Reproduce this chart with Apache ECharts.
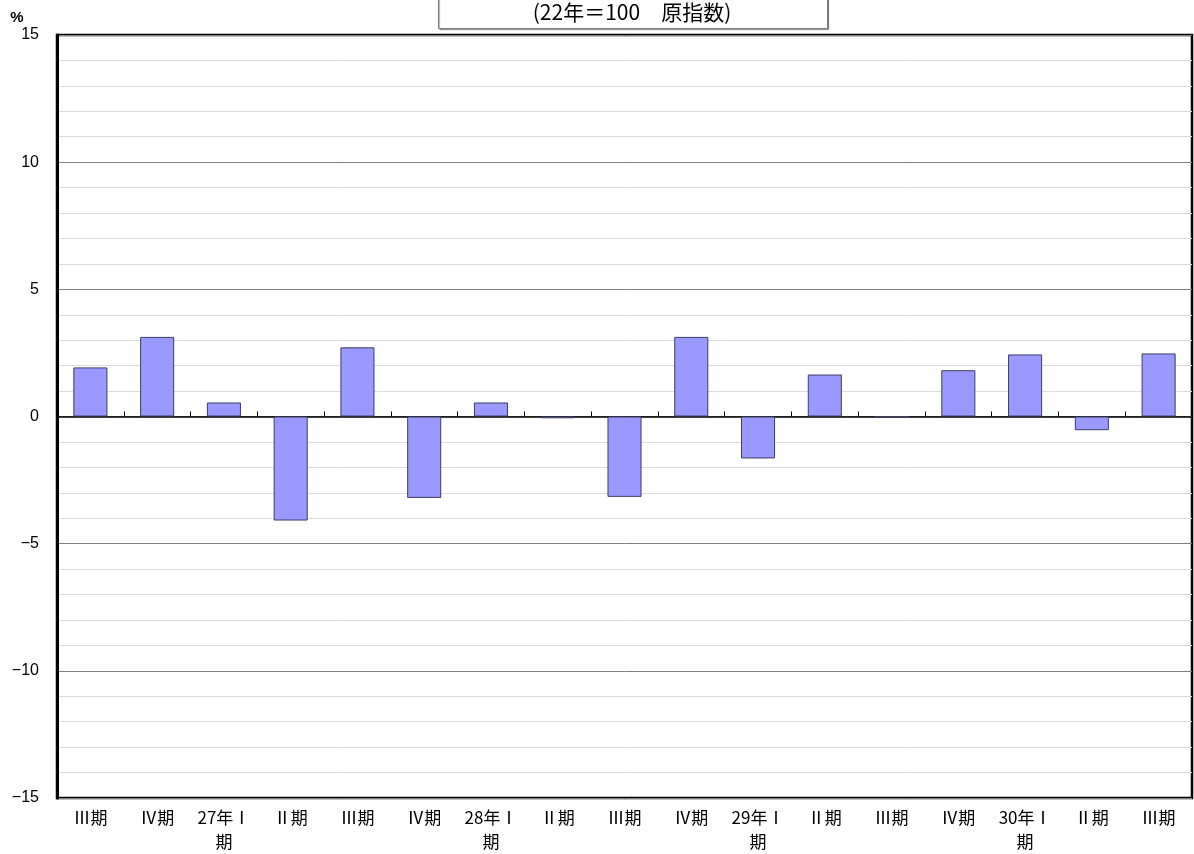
<!DOCTYPE html>
<html>
<head>
<meta charset="utf-8">
<script src="https://cdn.jsdelivr.net/npm/echarts@6/dist/echarts.min.js"></script>
<style>
html,body{margin:0;padding:0;background:#fff;}
#main{width:1194px;height:854px;}
</style>
</head>
<body>
<div id="main"></div>
<script>
const categories = ['Ⅲ期','Ⅳ期','27年Ⅰ\n期','Ⅱ期','Ⅲ期','Ⅳ期','28年Ⅰ\n期','Ⅱ期','Ⅲ期','Ⅳ期','29年Ⅰ\n期','Ⅱ期','Ⅲ期','Ⅳ期','30年Ⅰ\n期','Ⅱ期','Ⅲ期'];
const values = [1.93, 3.13, 0.55, -4.09, 2.72, -3.20, 0.55, -0.07, -3.16, 3.13, -1.65, 1.65, 0, 1.82, 2.44, -0.54, 2.48];
const titleText = '(22年＝100　原指数)';
const unitText = '%';

const chart = echarts.init(document.getElementById('main'));
chart.setOption({
  animation: false,
  backgroundColor: '#fff',
  textStyle: { fontFamily: '"Noto Sans CJK JP", "Liberation Sans", sans-serif' },
  grid: {
    left: 57, right: 2, top: 35, bottom: 55,
    show: true, borderColor: '#000', borderWidth: 2.5, backgroundColor: 'transparent'
  },
  xAxis: [
    {
      type: 'category',
      data: categories,
      position: 'bottom',
      axisLine: { show: false, onZero: false },
      axisTick: { show: false },
      axisLabel: {
        interval: 0, color: '#000', fontSize: 17, lineHeight: 24, margin: 8,
        fontFamily: '"Noto Sans CJK JP", sans-serif'
      },
      splitLine: { show: false }
    },
    {
      type: 'category',
      data: categories,
      position: 'bottom',
      axisLine: { show: true, onZero: true, lineStyle: { color: '#000', width: 1.5 } },
      axisTick: { show: true, inside: true, length: 5, interval: 0, lineStyle: { color: '#000', width: 1 } },
      axisLabel: { show: false },
      splitLine: { show: false }
    }
  ],
  yAxis: {
    type: 'value',
    min: -15, max: 15, interval: 5,
    axisLine: { show: true, lineStyle: { color: '#000', width: 3 } },
    axisTick: { show: false },
    axisLabel: {
      color: '#000', fontSize: 16, margin: 18,
      fontFamily: '"Liberation Sans", Arial, sans-serif',
      formatter: v => v < 0 ? '\u2212' + Math.abs(v) : String(v)
    },
    splitLine: { show: true, lineStyle: { color: '#808080', width: 1 } },
    minorTick: { show: false, splitNumber: 5 },
    minorSplitLine: { show: true, lineStyle: { color: '#dcdcdc', width: 1 } }
  },
  series: [{
    type: 'bar',
    data: values,
    xAxisIndex: 0,
    barWidth: '51%',
    itemStyle: { color: '#9999ff', borderColor: '#3c3c64', borderWidth: 1 }
  }],
  graphic: [
    {
      type: 'rect',
      shape: { x: 438.5, y: -10, width: 389, height: 38.5 },
      style: { fill: '#fff', stroke: '#808080', lineWidth: 1, shadowColor: 'rgba(0,0,0,0.35)', shadowOffsetX: 1, shadowOffsetY: 1, shadowBlur: 1 },
      z: 100
    },
    {
      type: 'text',
      x: 632, y: 12,
      style: { text: titleText, fill: '#000', font: '21px "Noto Sans CJK JP", sans-serif', textAlign: 'center', textVerticalAlign: 'middle' },
      z: 101
    },
    {
      type: 'text',
      x: 17, y: 18,
      style: { text: unitText, fill: '#000', font: 'bold 15px "Liberation Sans", sans-serif', textAlign: 'center', textVerticalAlign: 'middle' },
      z: 101
    }
  ]
});
</script>
</body>
</html>
